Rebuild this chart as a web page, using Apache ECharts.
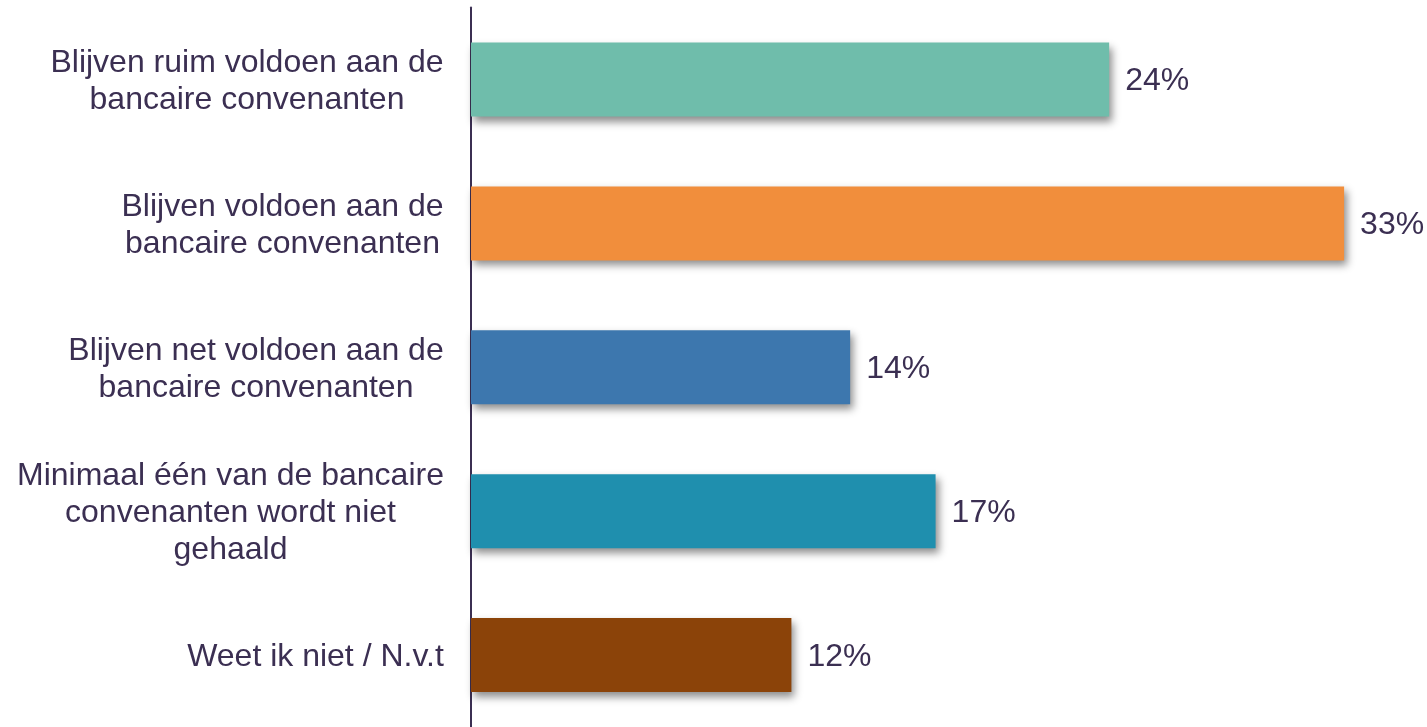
<!DOCTYPE html>
<html>
<head>
<meta charset="utf-8">
<script src="https://cdn.jsdelivr.net/npm/echarts@6/dist/echarts.min.js"></script>
<style>html,body{margin:0;padding:0;background:#fff}#c{width:1427px;height:727px}</style>
</head>
<body>
<div id="c"></div>
<script>
const categories = [
  "Blijven ruim voldoen aan de\nbancaire convenanten",
  "Blijven voldoen aan de\nbancaire convenanten",
  "Blijven net voldoen aan de\nbancaire convenanten",
  "Minimaal één van de bancaire\nconvenanten wordt niet\ngehaald",
  "Weet ik niet / N.v.t"
];
const values = [23.9, 32.7, 14.2, 17.4, 12.0];
const colors = ["#6fbdab", "#f18e3c", "#3d77ae", "#1f8fae", "#8b4309"];

const FONT_SIZE = 32;
const FONT_FAMILY = '"Liberation Sans", Arial, sans-serif';
const TEXT_COLOR = "#3b2f52";

const cv = document.createElement('canvas').getContext('2d');
cv.font = FONT_SIZE + 'px ' + FONT_FAMILY;
const rich = {};
categories.forEach((c, i) => {
  const w = Math.max(...c.split('\n').map(l => cv.measureText(l).width));
  rich['c' + i] = { width: Math.ceil(w), align: 'center', fontSize: FONT_SIZE, fontFamily: FONT_FAMILY, color: TEXT_COLOR, lineHeight: 37 };
});

const chart = echarts.init(document.getElementById('c'), null, { renderer: 'canvas' });
chart.setOption({
  animation: false,
  backgroundColor: '#fff',
  grid: { left: 471, width: 934.5, top: 7.6, height: 722.6, containLabel: false },
  xAxis: { type: 'value', min: 0, max: 35, show: false },
  yAxis: {
    type: 'category', inverse: true, data: categories,
    axisLine: { show: true, lineStyle: { color: TEXT_COLOR, width: 2 } },
    axisTick: { show: false },
    axisLabel: {
      margin: 27, align: 'right', padding: [4, 0, 0, 0],
      formatter: (v, i) => v.split('\n').map(l => '{c' + i + '|' + l + '}').join('\n'),
      rich: rich
    }
  },
  series: [{
    type: 'bar',
    data: values.map((v, i) => ({ value: v, itemStyle: { color: colors[i] } })),
    barWidth: 74,
    itemStyle: { shadowColor: 'rgba(0,0,0,0.45)', shadowBlur: 8, shadowOffsetX: 3, shadowOffsetY: 5 },
    label: {
      show: true, position: 'right', distance: 16, offset: [0, 2],
      formatter: p => Math.round(p.value) + '%',
      fontSize: FONT_SIZE, fontFamily: FONT_FAMILY, color: TEXT_COLOR
    }
  }]
});
</script>
</body>
</html>
